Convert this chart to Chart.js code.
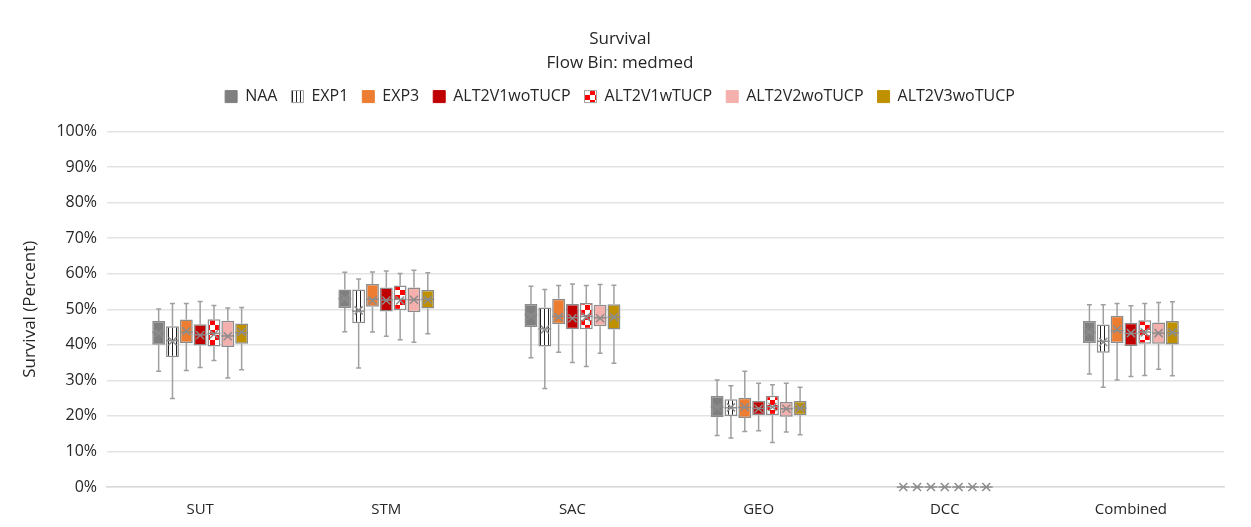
<!DOCTYPE html>
<html lang="en">
<head>
    <meta charset="UTF-8">
    <title>Survival</title>
    <script src="https://cdn.jsdelivr.net/npm/chart.js"></script>
    <style>
        body {
            margin: 0;
            background: #ffffff;
        }

        .chart-box {
            width: 1251px;
            height: 527px;
            position: relative;
        }
    </style>
</head>
<body>
    <div class="chart-box">
        <canvas id="boxChart"></canvas>
    </div>

    <script>
        const categories = ['SUT', 'STM', 'SAC', 'GEO', 'DCC', 'Combined'];
        const seriesNames = ['NAA', 'EXP1', 'EXP3', 'ALT2V1woTUCP', 'ALT2V1wTUCP', 'ALT2V2woTUCP', 'ALT2V3woTUCP'];

        // one row per series, one value per category
        const lowWhisker = [
            [32.6, 43.7, 36.4, 14.5, 0, 31.8],
            [24.9, 33.5, 27.7, 13.8, 0, 28.1],
            [32.8, 43.6, 37.9, 15.6, 0, 30.1],
            [33.6, 42.4, 35.0, 15.8, 0, 31.1],
            [35.6, 41.4, 33.9, 12.5, 0, 31.4],
            [30.7, 40.7, 37.6, 15.5, 0, 33.1],
            [33.0, 43.1, 34.8, 14.7, 0, 31.3]
        ];
        const quartile1 = [
            [40.0, 50.4, 45.0, 19.6, 0, 40.5],
            [36.5, 46.1, 39.5, 20.0, 0, 37.8],
            [40.5, 50.7, 45.8, 19.4, 0, 40.5],
            [39.8, 49.4, 44.4, 20.2, 0, 39.7],
            [39.5, 49.7, 44.4, 20.2, 0, 40.3],
            [39.4, 49.2, 45.2, 19.8, 0, 40.3],
            [40.3, 50.2, 44.3, 20.2, 0, 40.1]
        ];
        const medians = [
            [43.5, 53.0, 48.5, 22.5, 0, 43.5],
            [41.2, 49.5, 44.5, 22.3, 0, 41.0],
            [43.6, 52.8, 48.0, 22.4, 0, 44.0],
            [42.8, 52.6, 47.6, 22.1, 0, 43.2],
            [43.2, 52.8, 48.0, 22.6, 0, 43.6],
            [42.5, 52.7, 47.6, 22.0, 0, 43.3],
            [43.4, 52.8, 47.8, 22.2, 0, 43.4]
        ];
        const means = [
            [43.3, 53.0, 48.2, 22.4, 0, 43.6],
            [41.0, 49.7, 44.3, 22.4, 0, 40.8],
            [43.8, 52.5, 47.8, 22.5, 0, 44.3],
            [42.7, 52.5, 47.5, 22.0, 0, 43.3],
            [43.0, 52.5, 47.8, 22.5, 0, 43.5],
            [42.4, 52.7, 47.5, 22.0, 0, 43.3],
            [43.6, 52.7, 47.8, 22.2, 0, 43.5]
        ];
        const quartile3 = [
            [46.7, 55.6, 51.5, 25.6, 0, 46.7],
            [45.2, 55.6, 50.5, 24.7, 0, 45.7],
            [47.1, 57.1, 53.0, 25.1, 0, 48.2],
            [45.8, 56.1, 51.5, 24.3, 0, 46.2],
            [47.2, 56.7, 51.8, 25.7, 0, 46.9],
            [46.8, 56.1, 51.3, 23.9, 0, 46.3],
            [46.0, 55.4, 51.4, 24.2, 0, 46.7]
        ];
        const highWhisker = [
            [50.1, 60.4, 56.5, 30.1, 0, 51.3],
            [51.6, 58.5, 55.6, 28.5, 0, 51.3],
            [51.6, 60.5, 56.7, 32.6, 0, 51.6],
            [52.2, 60.8, 57.1, 29.2, 0, 51.0],
            [51.1, 60.1, 56.7, 28.8, 0, 51.6],
            [50.4, 61.0, 57.0, 29.2, 0, 51.9],
            [50.5, 60.3, 56.8, 28.1, 0, 52.1]
        ];

        function stripePattern() {
            const c = document.createElement('canvas');
            c.width = 4; c.height = 4;
            const g = c.getContext('2d');
            g.fillStyle = '#ffffff';
            g.fillRect(0, 0, 4, 4);
            g.fillStyle = '#222222';
            g.fillRect(0, 0, 1, 4);
            return g.createPattern(c, 'repeat');
        }

        function checkerPattern() {
            const c = document.createElement('canvas');
            c.width = 10; c.height = 10;
            const g = c.getContext('2d');
            g.fillStyle = '#ffffff';
            g.fillRect(0, 0, 10, 10);
            g.fillStyle = '#ff0000';
            g.fillRect(0, 0, 5, 5);
            g.fillRect(5, 5, 5, 5);
            return g.createPattern(c, 'repeat');
        }

        const fills = ['#7f7f7f', stripePattern(), '#ed7d31', '#c00000', checkerPattern(), '#f4b0ad', '#bf9000'];
        const boxBorder = '#8c8c8c';
        const textColor = '#262626';
        const fontFamily = "'Open Sans', 'Noto Sans', sans-serif";

        const datasets = seriesNames.map(function (name, s) {
            return {
                label: name,
                data: categories.map(function (c, i) { return [quartile1[s][i], quartile3[s][i]]; }),
                backgroundColor: fills[s],
                borderColor: boxBorder,
                borderWidth: 1.5,
                borderSkipped: false,
                categoryPercentage: 0.52,
                barPercentage: 0.93
            };
        });

        // whiskers, median line and mean cross, placed with the chart's own scales
        const boxExtras = {
            id: 'boxExtras',
            afterDatasetsDraw: function (chart) {
                const ctx = chart.ctx;
                const y = chart.scales.y;
                ctx.save();
                chart.data.datasets.forEach(function (ds, s) {
                    const meta = chart.getDatasetMeta(s);
                    meta.data.forEach(function (bar, i) {
                        const x = bar.x;
                        const half = bar.width / 2;
                        const yMin = y.getPixelForValue(lowWhisker[s][i]);
                        const yMax = y.getPixelForValue(highWhisker[s][i]);
                        const yQ1 = y.getPixelForValue(quartile1[s][i]);
                        const yQ3 = y.getPixelForValue(quartile3[s][i]);
                        const yMed = y.getPixelForValue(medians[s][i]);
                        const yMean = y.getPixelForValue(means[s][i]);

                        ctx.strokeStyle = '#a0a0a0';
                        ctx.lineWidth = 1.5;
                        ctx.beginPath();
                        ctx.moveTo(x, yQ3); ctx.lineTo(x, yMax);
                        ctx.moveTo(x, yQ1); ctx.lineTo(x, yMin);
                        ctx.moveTo(x - 2.5, yMax); ctx.lineTo(x + 2.5, yMax);
                        ctx.moveTo(x - 2.5, yMin); ctx.lineTo(x + 2.5, yMin);
                        ctx.stroke();

                        ctx.strokeStyle = boxBorder;
                        ctx.beginPath();
                        ctx.moveTo(x - half, yMed); ctx.lineTo(x + half, yMed);
                        ctx.stroke();

                        const m = 4;
                        ctx.beginPath();
                        ctx.moveTo(x - m, yMean - m); ctx.lineTo(x + m, yMean + m);
                        ctx.moveTo(x - m, yMean + m); ctx.lineTo(x + m, yMean - m);
                        ctx.stroke();
                    });
                });
                ctx.restore();
            }
        };

        // extra room under the legend
        const legendGap = {
            id: 'legendGap',
            beforeInit: function (chart) {
                const fit = chart.legend.fit;
                chart.legend.fit = function () {
                    fit.bind(chart.legend)();
                    this.height += 17;
                };
            }
        };

        new Chart(document.getElementById('boxChart'), {
            type: 'bar',
            data: {
                labels: categories,
                datasets: datasets
            },
            options: {
                responsive: true,
                maintainAspectRatio: false,
                animation: false,
                layout: {
                    padding: { left: 16, right: 27, top: 0, bottom: 2 }
                },
                plugins: {
                    title: {
                        display: true,
                        text: ['Survival', 'Flow Bin: medmed'],
                        color: textColor,
                        font: { family: fontFamily, size: 17, weight: 'normal', lineHeight: 1.4 },
                        padding: { top: 27, bottom: 0 }
                    },
                    legend: {
                        position: 'top',
                        labels: {
                            color: textColor,
                            font: { family: fontFamily, size: 16 },
                            boxWidth: 12,
                            boxHeight: 12,
                            padding: 14,
                            generateLabels: function (chart) {
                                return chart.data.datasets.map(function (ds, i) {
                                    return {
                                        text: ds.label,
                                        fillStyle: ds.backgroundColor,
                                        strokeStyle: i === 1 || i === 4 ? '#a0a0a0' : ds.backgroundColor,
                                        lineWidth: 1,
                                        fontColor: textColor,
                                        datasetIndex: i
                                    };
                                });
                            }
                        }
                    },
                    tooltip: { enabled: false }
                },
                scales: {
                    x: {
                        grid: { display: false },
                        border: { color: '#d9d9d9', width: 1.5 },
                        ticks: {
                            color: textColor,
                            font: { family: fontFamily, size: 15 },
                            padding: 6
                        }
                    },
                    y: {
                        min: 0,
                        max: 100,
                        grid: { color: '#e3e3e3', lineWidth: 1.5, drawTicks: false },
                        border: { display: false },
                        ticks: {
                            stepSize: 10,
                            color: textColor,
                            font: { family: fontFamily, size: 16 },
                            padding: 10,
                            callback: function (v) { return v + '%'; }
                        },
                        title: {
                            display: true,
                            text: 'Survival (Percent)',
                            color: textColor,
                            font: { family: fontFamily, size: 17 },
                            padding: { bottom: 6 }
                        }
                    }
                }
            },
            plugins: [boxExtras, legendGap]
        });
    </script>
</body>
</html>
